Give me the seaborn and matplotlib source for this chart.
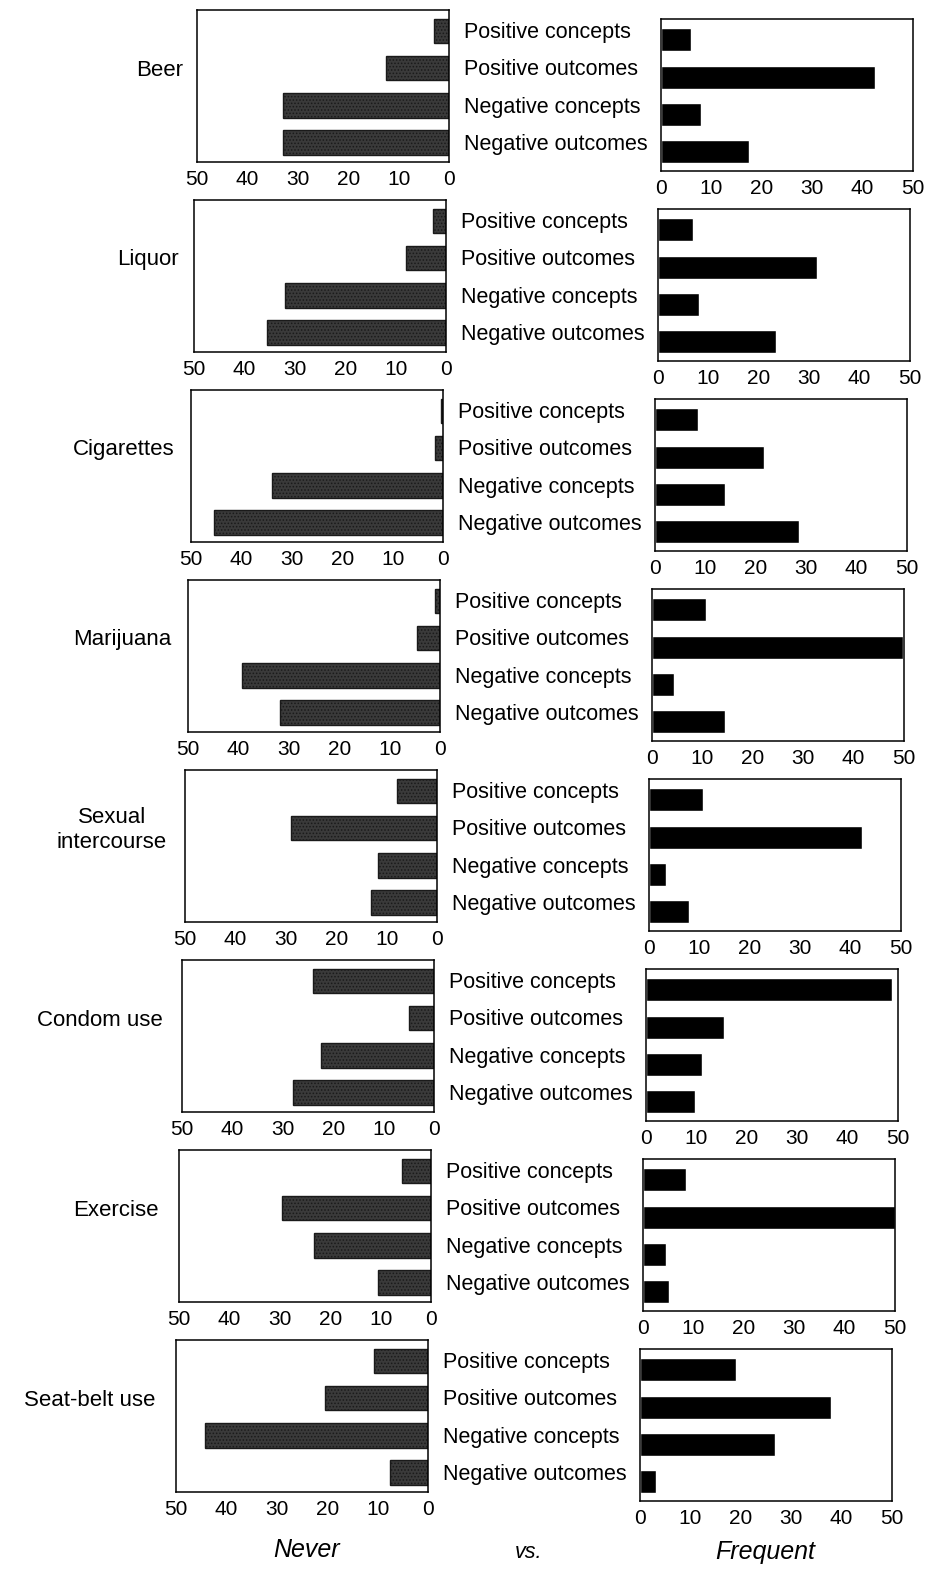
import pandas as pd
import seaborn as sns
import matplotlib.pyplot as plt

behaviors = ["Beer", "Liquor", "Cigarettes", "Marijuana", "Sexual\nintercourse",
             "Condom use", "Exercise", "Seat-belt use"]
measures = ["Positive concepts", "Positive outcomes", "Negative concepts", "Negative outcomes"]

# values per behavior, order = measures
never = [
    [3, 12.5, 33, 33],
    [2.5, 8, 32, 35.5],
    [0.4, 1.5, 34, 45.5],
    [1, 4.5, 39.3, 31.8],
    [8, 29, 11.7, 13],
    [24, 5, 22.5, 28],
    [5.7, 29.6, 23.3, 10.5],
    [10.8, 20.5, 44.3, 7.5],
]
frequent = [
    [6, 42.5, 8, 17.5],
    [7, 31.5, 8.2, 23.5],
    [8.5, 21.7, 13.8, 28.5],
    [10.7, 49.8, 4.3, 14.4],
    [10.8, 42.2, 3.3, 7.9],
    [48.8, 15.5, 11.2, 9.8],
    [8.6, 50, 4.5, 5.1],
    [19, 37.8, 26.8, 3.1],
]

sns.set_style("white")
plt.rcParams['font.family'] = ['Liberation Sans', 'DejaVu Sans']
plt.rcParams['text.color'] = 'black'
plt.rcParams['xtick.color'] = 'black'
plt.rcParams['hatch.color'] = '#8f8f8f'
plt.rcParams['hatch.linewidth'] = 0.7

W, H = 931, 1570
fig = plt.figure(figsize=(W / 100, H / 100), dpi=100)


def style_axis(ax, inverted):
    ax.set_xlim(50, 0) if inverted else ax.set_xlim(0, 50)
    ax.set_ylim(3.52, -0.56)
    ax.set_xticks([0, 10, 20, 30, 40, 50])
    ax.set_yticks([])
    ax.set_xlabel("")
    ax.set_ylabel("")
    ax.tick_params(axis='x', length=0, pad=6, labelsize=15, labelcolor='black')
    for s in ax.spines.values():
        s.set_visible(True)
        s.set_color('black')
        s.set_linewidth(1.1)


for i, name in enumerate(behaviors):
    shift = 3 * i  # slight skew of the scanned page
    top_l = 10 + 190 * i
    axl = fig.add_axes([(197 - shift) / W, 1 - (top_l + 152) / H, 252 / W, 152 / H])
    df_l = pd.DataFrame({"measure": measures, "value": never[i]})
    sns.barplot(data=df_l, x="value", y="measure", orient="h", color="#3a3a3a",
                width=0.66, saturation=1, ax=axl)
    for p in axl.patches:
        p.set_hatch('.....')
        p.set_edgecolor('#1a1a1a')
    style_axis(axl, True)

    top_r = 19 + 190 * i
    axr = fig.add_axes([(661 - shift) / W, 1 - (top_r + 152) / H, 252 / W, 152 / H])
    df_r = pd.DataFrame({"measure": measures, "value": frequent[i]})
    sns.barplot(data=df_r, x="value", y="measure", orient="h", color="black",
                width=0.62, saturation=1, ax=axr)
    style_axis(axr, False)

    # measure labels between the two panels
    for j, m in enumerate(measures):
        axl.text(1.06, j + 0.05, m, transform=axl.get_yaxis_transform(),
                 ha='left', va='center', fontsize=15.5)

    # behavior label
    fig.text((183 - 4 * i) / W, 1 - (top_l + 60) / H, name, ha='right', va='center',
             multialignment='center', fontsize=16)

fig.text(307 / W, 1 - 1550 / H, "Never", ha='center', va='center', fontsize=18, style='italic')
fig.text(529 / W, 1 - 1552 / H, "vs.", ha='center', va='center', fontsize=15.5, style='italic')
fig.text(765 / W, 1 - 1552 / H, "Frequent", ha='center', va='center', fontsize=18, style='italic')

fig.savefig("out.png", dpi=100, facecolor='white')
